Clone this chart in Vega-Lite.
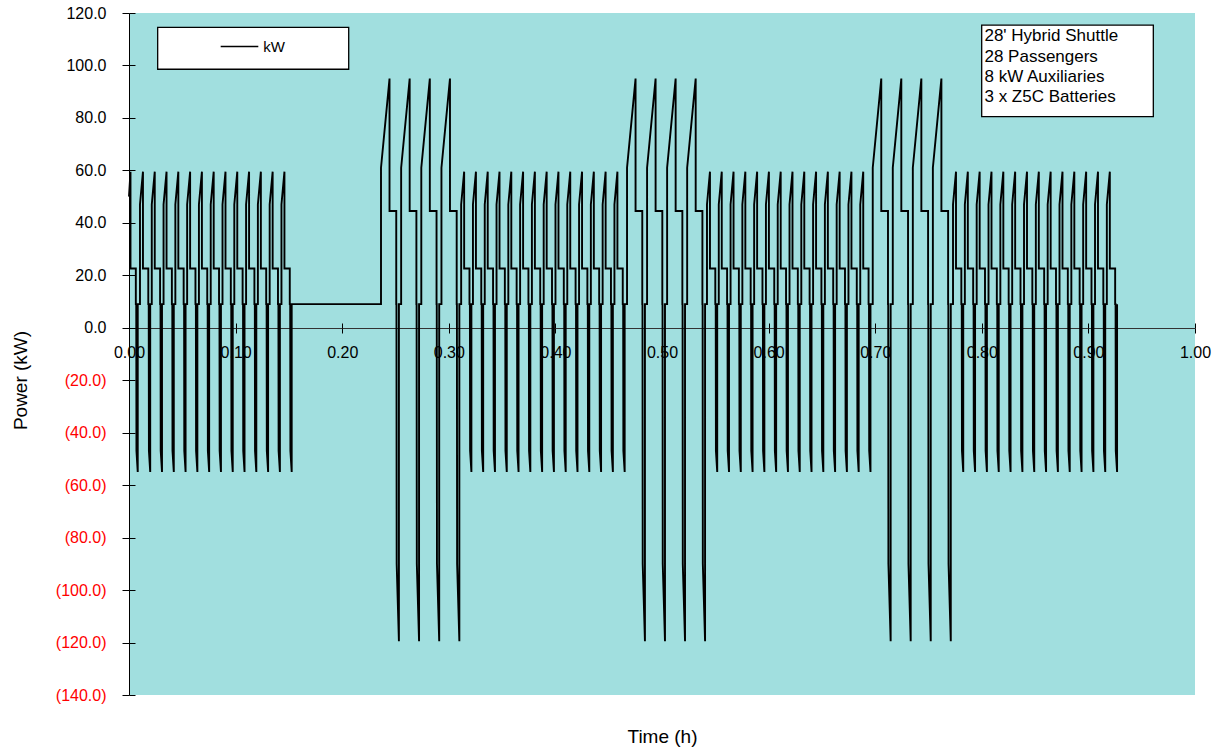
{
"$schema": "https://vega.github.io/schema/vega-lite/v6.json",
"width": 1066, "height": 682,
"autosize": {"type": "none"},
"padding": {"left": 129, "top": 13, "right": 33, "bottom": 56},
"background": "white",
"config": {"view": {"fill": "#A1DFDF", "stroke": null}, "font": "Liberation Sans"},
"resolve": {"axis": {"x": "independent", "y": "independent"}},
"layer": [
{
"data": {"values": [
{"h":0,"kW":50},{"h":0.0014,"kW":59.5},{"h":0.0014,"kW":22.6},{"h":0.0064,"kW":22.6},{"h":0.0064,"kW":9},{"h":0.0068,"kW":9},{"h":0.007,"kW":-47},{"h":0.0082,"kW":-55},{"h":0.0082,"kW":9},
{"h":0.0103,"kW":9},{"h":0.0103,"kW":47},{"h":0.0131,"kW":59.5},{"h":0.0131,"kW":22.6},{"h":0.0181,"kW":22.6},{"h":0.0181,"kW":9},{"h":0.0185,"kW":9},{"h":0.0187,"kW":-47},{"h":0.0199,"kW":-55},{"h":0.0199,"kW":9},
{"h":0.02136,"kW":9},{"h":0.02136,"kW":47},{"h":0.02416,"kW":59.5},{"h":0.02416,"kW":22.6},{"h":0.02916,"kW":22.6},{"h":0.02916,"kW":9},{"h":0.02956,"kW":9},{"h":0.02976,"kW":-47},{"h":0.03096,"kW":-55},{"h":0.03096,"kW":9},
{"h":0.03242,"kW":9},{"h":0.03242,"kW":47},{"h":0.03522,"kW":59.5},{"h":0.03522,"kW":22.6},{"h":0.04022,"kW":22.6},{"h":0.04022,"kW":9},{"h":0.04062,"kW":9},{"h":0.04082,"kW":-47},{"h":0.04202,"kW":-55},{"h":0.04202,"kW":9},
{"h":0.04348,"kW":9},{"h":0.04348,"kW":47},{"h":0.04628,"kW":59.5},{"h":0.04628,"kW":22.6},{"h":0.05128,"kW":22.6},{"h":0.05128,"kW":9},{"h":0.05168,"kW":9},{"h":0.05188,"kW":-47},{"h":0.05308,"kW":-55},{"h":0.05308,"kW":9},
{"h":0.05454,"kW":9},{"h":0.05454,"kW":47},{"h":0.05734,"kW":59.5},{"h":0.05734,"kW":22.6},{"h":0.06234,"kW":22.6},{"h":0.06234,"kW":9},{"h":0.06274,"kW":9},{"h":0.06294,"kW":-47},{"h":0.06414,"kW":-55},{"h":0.06414,"kW":9},
{"h":0.0656,"kW":9},{"h":0.0656,"kW":47},{"h":0.0684,"kW":59.5},{"h":0.0684,"kW":22.6},{"h":0.0734,"kW":22.6},{"h":0.0734,"kW":9},{"h":0.0738,"kW":9},{"h":0.074,"kW":-47},{"h":0.0752,"kW":-55},{"h":0.0752,"kW":9},
{"h":0.07666,"kW":9},{"h":0.07666,"kW":47},{"h":0.07946,"kW":59.5},{"h":0.07946,"kW":22.6},{"h":0.08446,"kW":22.6},{"h":0.08446,"kW":9},{"h":0.08486,"kW":9},{"h":0.08506,"kW":-47},{"h":0.08626,"kW":-55},{"h":0.08626,"kW":9},
{"h":0.08772,"kW":9},{"h":0.08772,"kW":47},{"h":0.09052,"kW":59.5},{"h":0.09052,"kW":22.6},{"h":0.09552,"kW":22.6},{"h":0.09552,"kW":9},{"h":0.09592,"kW":9},{"h":0.09612,"kW":-47},{"h":0.09732,"kW":-55},{"h":0.09732,"kW":9},
{"h":0.09878,"kW":9},{"h":0.09878,"kW":47},{"h":0.10158,"kW":59.5},{"h":0.10158,"kW":22.6},{"h":0.10658,"kW":22.6},{"h":0.10658,"kW":9},{"h":0.10698,"kW":9},{"h":0.10718,"kW":-47},{"h":0.10838,"kW":-55},{"h":0.10838,"kW":9},
{"h":0.10984,"kW":9},{"h":0.10984,"kW":47},{"h":0.11264,"kW":59.5},{"h":0.11264,"kW":22.6},{"h":0.11764,"kW":22.6},{"h":0.11764,"kW":9},{"h":0.11804,"kW":9},{"h":0.11824,"kW":-47},{"h":0.11944,"kW":-55},{"h":0.11944,"kW":9},
{"h":0.1209,"kW":9},{"h":0.1209,"kW":47},{"h":0.1237,"kW":59.5},{"h":0.1237,"kW":22.6},{"h":0.1287,"kW":22.6},{"h":0.1287,"kW":9},{"h":0.1291,"kW":9},{"h":0.1293,"kW":-47},{"h":0.1305,"kW":-55},{"h":0.1305,"kW":9},
{"h":0.13196,"kW":9},{"h":0.13196,"kW":47},{"h":0.13476,"kW":59.5},{"h":0.13476,"kW":22.6},{"h":0.13976,"kW":22.6},{"h":0.13976,"kW":9},{"h":0.14016,"kW":9},{"h":0.14036,"kW":-47},{"h":0.14156,"kW":-55},{"h":0.14156,"kW":9},
{"h":0.14302,"kW":9},{"h":0.14302,"kW":47},{"h":0.14582,"kW":59.5},{"h":0.14582,"kW":22.6},{"h":0.15082,"kW":22.6},{"h":0.15082,"kW":9},{"h":0.15122,"kW":9},{"h":0.15142,"kW":-47},{"h":0.15262,"kW":-55},{"h":0.15262,"kW":9},
{"h":0.2364,"kW":9},{"h":0.2364,"kW":61},{"h":0.2444,"kW":95},{"h":0.2444,"kW":44.5},{"h":0.2507,"kW":44.5},{"h":0.2507,"kW":9},{"h":0.2509,"kW":9},{"h":0.2511,"kW":-90},{"h":0.2532,"kW":-119.5},{"h":0.2532,"kW":9},
{"h":0.2553,"kW":9},{"h":0.2553,"kW":61},{"h":0.2633,"kW":95},{"h":0.2633,"kW":44.5},{"h":0.2696,"kW":44.5},{"h":0.2696,"kW":9},{"h":0.2698,"kW":9},{"h":0.27,"kW":-90},{"h":0.2721,"kW":-119.5},{"h":0.2721,"kW":9},
{"h":0.2742,"kW":9},{"h":0.2742,"kW":61},{"h":0.2822,"kW":95},{"h":0.2822,"kW":44.5},{"h":0.2885,"kW":44.5},{"h":0.2885,"kW":9},{"h":0.2887,"kW":9},{"h":0.2889,"kW":-90},{"h":0.291,"kW":-119.5},{"h":0.291,"kW":9},
{"h":0.2931,"kW":9},{"h":0.2931,"kW":61},{"h":0.3011,"kW":95},{"h":0.3011,"kW":44.5},{"h":0.3074,"kW":44.5},{"h":0.3074,"kW":9},{"h":0.3076,"kW":9},{"h":0.3078,"kW":-90},{"h":0.3099,"kW":-119.5},{"h":0.3099,"kW":9},
{"h":0.3116,"kW":9},{"h":0.3116,"kW":47},{"h":0.3144,"kW":59.5},{"h":0.3144,"kW":22.6},{"h":0.3194,"kW":22.6},{"h":0.3194,"kW":9},{"h":0.3198,"kW":9},{"h":0.32,"kW":-47},{"h":0.3212,"kW":-55},{"h":0.3212,"kW":9},
{"h":0.32266,"kW":9},{"h":0.32266,"kW":47},{"h":0.32546,"kW":59.5},{"h":0.32546,"kW":22.6},{"h":0.33046,"kW":22.6},{"h":0.33046,"kW":9},{"h":0.33086,"kW":9},{"h":0.33106,"kW":-47},{"h":0.33226,"kW":-55},{"h":0.33226,"kW":9},
{"h":0.33372,"kW":9},{"h":0.33372,"kW":47},{"h":0.33652,"kW":59.5},{"h":0.33652,"kW":22.6},{"h":0.34152,"kW":22.6},{"h":0.34152,"kW":9},{"h":0.34192,"kW":9},{"h":0.34212,"kW":-47},{"h":0.34332,"kW":-55},{"h":0.34332,"kW":9},
{"h":0.34478,"kW":9},{"h":0.34478,"kW":47},{"h":0.34758,"kW":59.5},{"h":0.34758,"kW":22.6},{"h":0.35258,"kW":22.6},{"h":0.35258,"kW":9},{"h":0.35298,"kW":9},{"h":0.35318,"kW":-47},{"h":0.35438,"kW":-55},{"h":0.35438,"kW":9},
{"h":0.35584,"kW":9},{"h":0.35584,"kW":47},{"h":0.35864,"kW":59.5},{"h":0.35864,"kW":22.6},{"h":0.36364,"kW":22.6},{"h":0.36364,"kW":9},{"h":0.36404,"kW":9},{"h":0.36424,"kW":-47},{"h":0.36544,"kW":-55},{"h":0.36544,"kW":9},
{"h":0.3669,"kW":9},{"h":0.3669,"kW":47},{"h":0.3697,"kW":59.5},{"h":0.3697,"kW":22.6},{"h":0.3747,"kW":22.6},{"h":0.3747,"kW":9},{"h":0.3751,"kW":9},{"h":0.3753,"kW":-47},{"h":0.3765,"kW":-55},{"h":0.3765,"kW":9},
{"h":0.37796,"kW":9},{"h":0.37796,"kW":47},{"h":0.38076,"kW":59.5},{"h":0.38076,"kW":22.6},{"h":0.38576,"kW":22.6},{"h":0.38576,"kW":9},{"h":0.38616,"kW":9},{"h":0.38636,"kW":-47},{"h":0.38756,"kW":-55},{"h":0.38756,"kW":9},
{"h":0.38902,"kW":9},{"h":0.38902,"kW":47},{"h":0.39182,"kW":59.5},{"h":0.39182,"kW":22.6},{"h":0.39682,"kW":22.6},{"h":0.39682,"kW":9},{"h":0.39722,"kW":9},{"h":0.39742,"kW":-47},{"h":0.39862,"kW":-55},{"h":0.39862,"kW":9},
{"h":0.40008,"kW":9},{"h":0.40008,"kW":47},{"h":0.40288,"kW":59.5},{"h":0.40288,"kW":22.6},{"h":0.40788,"kW":22.6},{"h":0.40788,"kW":9},{"h":0.40828,"kW":9},{"h":0.40848,"kW":-47},{"h":0.40968,"kW":-55},{"h":0.40968,"kW":9},
{"h":0.41114,"kW":9},{"h":0.41114,"kW":47},{"h":0.41394,"kW":59.5},{"h":0.41394,"kW":22.6},{"h":0.41894,"kW":22.6},{"h":0.41894,"kW":9},{"h":0.41934,"kW":9},{"h":0.41954,"kW":-47},{"h":0.42074,"kW":-55},{"h":0.42074,"kW":9},
{"h":0.4222,"kW":9},{"h":0.4222,"kW":47},{"h":0.425,"kW":59.5},{"h":0.425,"kW":22.6},{"h":0.43,"kW":22.6},{"h":0.43,"kW":9},{"h":0.4304,"kW":9},{"h":0.4306,"kW":-47},{"h":0.4318,"kW":-55},{"h":0.4318,"kW":9},
{"h":0.43326,"kW":9},{"h":0.43326,"kW":47},{"h":0.43606,"kW":59.5},{"h":0.43606,"kW":22.6},{"h":0.44106,"kW":22.6},{"h":0.44106,"kW":9},{"h":0.44146,"kW":9},{"h":0.44166,"kW":-47},{"h":0.44286,"kW":-55},{"h":0.44286,"kW":9},
{"h":0.44432,"kW":9},{"h":0.44432,"kW":47},{"h":0.44712,"kW":59.5},{"h":0.44712,"kW":22.6},{"h":0.45212,"kW":22.6},{"h":0.45212,"kW":9},{"h":0.45252,"kW":9},{"h":0.45272,"kW":-47},{"h":0.45392,"kW":-55},{"h":0.45392,"kW":9},
{"h":0.45538,"kW":9},{"h":0.45538,"kW":47},{"h":0.45818,"kW":59.5},{"h":0.45818,"kW":22.6},{"h":0.46318,"kW":22.6},{"h":0.46318,"kW":9},{"h":0.46358,"kW":9},{"h":0.46378,"kW":-47},{"h":0.46498,"kW":-55},{"h":0.46498,"kW":9},
{"h":0.4672,"kW":9},{"h":0.4672,"kW":61},{"h":0.4752,"kW":95},{"h":0.4752,"kW":44.5},{"h":0.4815,"kW":44.5},{"h":0.4815,"kW":9},{"h":0.4817,"kW":9},{"h":0.4819,"kW":-90},{"h":0.484,"kW":-119.5},{"h":0.484,"kW":9},
{"h":0.486,"kW":9},{"h":0.486,"kW":61},{"h":0.494,"kW":95},{"h":0.494,"kW":44.5},{"h":0.5003,"kW":44.5},{"h":0.5003,"kW":9},{"h":0.5005,"kW":9},{"h":0.5007,"kW":-90},{"h":0.5028,"kW":-119.5},{"h":0.5028,"kW":9},
{"h":0.5048,"kW":9},{"h":0.5048,"kW":61},{"h":0.5128,"kW":95},{"h":0.5128,"kW":44.5},{"h":0.5191,"kW":44.5},{"h":0.5191,"kW":9},{"h":0.5193,"kW":9},{"h":0.5195,"kW":-90},{"h":0.5216,"kW":-119.5},{"h":0.5216,"kW":9},
{"h":0.5236,"kW":9},{"h":0.5236,"kW":61},{"h":0.5316,"kW":95},{"h":0.5316,"kW":44.5},{"h":0.5379,"kW":44.5},{"h":0.5379,"kW":9},{"h":0.5381,"kW":9},{"h":0.5383,"kW":-90},{"h":0.5404,"kW":-119.5},{"h":0.5404,"kW":9},
{"h":0.5422,"kW":9},{"h":0.5422,"kW":47},{"h":0.545,"kW":59.5},{"h":0.545,"kW":22.6},{"h":0.55,"kW":22.6},{"h":0.55,"kW":9},{"h":0.5504,"kW":9},{"h":0.5506,"kW":-47},{"h":0.5518,"kW":-55},{"h":0.5518,"kW":9},
{"h":0.55326,"kW":9},{"h":0.55326,"kW":47},{"h":0.55606,"kW":59.5},{"h":0.55606,"kW":22.6},{"h":0.56106,"kW":22.6},{"h":0.56106,"kW":9},{"h":0.56146,"kW":9},{"h":0.56166,"kW":-47},{"h":0.56286,"kW":-55},{"h":0.56286,"kW":9},
{"h":0.56432,"kW":9},{"h":0.56432,"kW":47},{"h":0.56712,"kW":59.5},{"h":0.56712,"kW":22.6},{"h":0.57212,"kW":22.6},{"h":0.57212,"kW":9},{"h":0.57252,"kW":9},{"h":0.57272,"kW":-47},{"h":0.57392,"kW":-55},{"h":0.57392,"kW":9},
{"h":0.57538,"kW":9},{"h":0.57538,"kW":47},{"h":0.57818,"kW":59.5},{"h":0.57818,"kW":22.6},{"h":0.58318,"kW":22.6},{"h":0.58318,"kW":9},{"h":0.58358,"kW":9},{"h":0.58378,"kW":-47},{"h":0.58498,"kW":-55},{"h":0.58498,"kW":9},
{"h":0.58644,"kW":9},{"h":0.58644,"kW":47},{"h":0.58924,"kW":59.5},{"h":0.58924,"kW":22.6},{"h":0.59424,"kW":22.6},{"h":0.59424,"kW":9},{"h":0.59464,"kW":9},{"h":0.59484,"kW":-47},{"h":0.59604,"kW":-55},{"h":0.59604,"kW":9},
{"h":0.5975,"kW":9},{"h":0.5975,"kW":47},{"h":0.6003,"kW":59.5},{"h":0.6003,"kW":22.6},{"h":0.6053,"kW":22.6},{"h":0.6053,"kW":9},{"h":0.6057,"kW":9},{"h":0.6059,"kW":-47},{"h":0.6071,"kW":-55},{"h":0.6071,"kW":9},
{"h":0.60856,"kW":9},{"h":0.60856,"kW":47},{"h":0.61136,"kW":59.5},{"h":0.61136,"kW":22.6},{"h":0.61636,"kW":22.6},{"h":0.61636,"kW":9},{"h":0.61676,"kW":9},{"h":0.61696,"kW":-47},{"h":0.61816,"kW":-55},{"h":0.61816,"kW":9},
{"h":0.61962,"kW":9},{"h":0.61962,"kW":47},{"h":0.62242,"kW":59.5},{"h":0.62242,"kW":22.6},{"h":0.62742,"kW":22.6},{"h":0.62742,"kW":9},{"h":0.62782,"kW":9},{"h":0.62802,"kW":-47},{"h":0.62922,"kW":-55},{"h":0.62922,"kW":9},
{"h":0.63068,"kW":9},{"h":0.63068,"kW":47},{"h":0.63348,"kW":59.5},{"h":0.63348,"kW":22.6},{"h":0.63848,"kW":22.6},{"h":0.63848,"kW":9},{"h":0.63888,"kW":9},{"h":0.63908,"kW":-47},{"h":0.64028,"kW":-55},{"h":0.64028,"kW":9},
{"h":0.64174,"kW":9},{"h":0.64174,"kW":47},{"h":0.64454,"kW":59.5},{"h":0.64454,"kW":22.6},{"h":0.64954,"kW":22.6},{"h":0.64954,"kW":9},{"h":0.64994,"kW":9},{"h":0.65014,"kW":-47},{"h":0.65134,"kW":-55},{"h":0.65134,"kW":9},
{"h":0.6528,"kW":9},{"h":0.6528,"kW":47},{"h":0.6556,"kW":59.5},{"h":0.6556,"kW":22.6},{"h":0.6606,"kW":22.6},{"h":0.6606,"kW":9},{"h":0.661,"kW":9},{"h":0.6612,"kW":-47},{"h":0.6624,"kW":-55},{"h":0.6624,"kW":9},
{"h":0.66386,"kW":9},{"h":0.66386,"kW":47},{"h":0.66666,"kW":59.5},{"h":0.66666,"kW":22.6},{"h":0.67166,"kW":22.6},{"h":0.67166,"kW":9},{"h":0.67206,"kW":9},{"h":0.67226,"kW":-47},{"h":0.67346,"kW":-55},{"h":0.67346,"kW":9},
{"h":0.67492,"kW":9},{"h":0.67492,"kW":47},{"h":0.67772,"kW":59.5},{"h":0.67772,"kW":22.6},{"h":0.68272,"kW":22.6},{"h":0.68272,"kW":9},{"h":0.68312,"kW":9},{"h":0.68332,"kW":-47},{"h":0.68452,"kW":-55},{"h":0.68452,"kW":9},
{"h":0.68598,"kW":9},{"h":0.68598,"kW":47},{"h":0.68878,"kW":59.5},{"h":0.68878,"kW":22.6},{"h":0.69378,"kW":22.6},{"h":0.69378,"kW":9},{"h":0.69418,"kW":9},{"h":0.69438,"kW":-47},{"h":0.69558,"kW":-55},{"h":0.69558,"kW":9},
{"h":0.6977,"kW":9},{"h":0.6977,"kW":61},{"h":0.7057,"kW":95},{"h":0.7057,"kW":44.5},{"h":0.712,"kW":44.5},{"h":0.712,"kW":9},{"h":0.7122,"kW":9},{"h":0.7124,"kW":-90},{"h":0.7145,"kW":-119.5},{"h":0.7145,"kW":9},
{"h":0.7165,"kW":9},{"h":0.7165,"kW":61},{"h":0.7245,"kW":95},{"h":0.7245,"kW":44.5},{"h":0.7308,"kW":44.5},{"h":0.7308,"kW":9},{"h":0.731,"kW":9},{"h":0.7312,"kW":-90},{"h":0.7333,"kW":-119.5},{"h":0.7333,"kW":9},
{"h":0.7353,"kW":9},{"h":0.7353,"kW":61},{"h":0.7433,"kW":95},{"h":0.7433,"kW":44.5},{"h":0.7496,"kW":44.5},{"h":0.7496,"kW":9},{"h":0.7498,"kW":9},{"h":0.75,"kW":-90},{"h":0.7521,"kW":-119.5},{"h":0.7521,"kW":9},
{"h":0.7541,"kW":9},{"h":0.7541,"kW":61},{"h":0.7621,"kW":95},{"h":0.7621,"kW":44.5},{"h":0.7684,"kW":44.5},{"h":0.7684,"kW":9},{"h":0.7686,"kW":9},{"h":0.7688,"kW":-90},{"h":0.7709,"kW":-119.5},{"h":0.7709,"kW":9},
{"h":0.773,"kW":9},{"h":0.773,"kW":47},{"h":0.7758,"kW":59.5},{"h":0.7758,"kW":22.6},{"h":0.7808,"kW":22.6},{"h":0.7808,"kW":9},{"h":0.7812,"kW":9},{"h":0.7814,"kW":-47},{"h":0.7826,"kW":-55},{"h":0.7826,"kW":9},
{"h":0.7841,"kW":9},{"h":0.7841,"kW":47},{"h":0.7869,"kW":59.5},{"h":0.7869,"kW":22.6},{"h":0.7919,"kW":22.6},{"h":0.7919,"kW":9},{"h":0.7923,"kW":9},{"h":0.7925,"kW":-47},{"h":0.7937,"kW":-55},{"h":0.7937,"kW":9},
{"h":0.7952,"kW":9},{"h":0.7952,"kW":47},{"h":0.798,"kW":59.5},{"h":0.798,"kW":22.6},{"h":0.803,"kW":22.6},{"h":0.803,"kW":9},{"h":0.8034,"kW":9},{"h":0.8036,"kW":-47},{"h":0.8048,"kW":-55},{"h":0.8048,"kW":9},
{"h":0.8063,"kW":9},{"h":0.8063,"kW":47},{"h":0.8091,"kW":59.5},{"h":0.8091,"kW":22.6},{"h":0.8141,"kW":22.6},{"h":0.8141,"kW":9},{"h":0.8145,"kW":9},{"h":0.8147,"kW":-47},{"h":0.8159,"kW":-55},{"h":0.8159,"kW":9},
{"h":0.8174,"kW":9},{"h":0.8174,"kW":47},{"h":0.8202,"kW":59.5},{"h":0.8202,"kW":22.6},{"h":0.8252,"kW":22.6},{"h":0.8252,"kW":9},{"h":0.8256,"kW":9},{"h":0.8258,"kW":-47},{"h":0.827,"kW":-55},{"h":0.827,"kW":9},
{"h":0.8285,"kW":9},{"h":0.8285,"kW":47},{"h":0.8313,"kW":59.5},{"h":0.8313,"kW":22.6},{"h":0.8363,"kW":22.6},{"h":0.8363,"kW":9},{"h":0.8367,"kW":9},{"h":0.8369,"kW":-47},{"h":0.8381,"kW":-55},{"h":0.8381,"kW":9},
{"h":0.8396,"kW":9},{"h":0.8396,"kW":47},{"h":0.8424,"kW":59.5},{"h":0.8424,"kW":22.6},{"h":0.8474,"kW":22.6},{"h":0.8474,"kW":9},{"h":0.8478,"kW":9},{"h":0.848,"kW":-47},{"h":0.8492,"kW":-55},{"h":0.8492,"kW":9},
{"h":0.8507,"kW":9},{"h":0.8507,"kW":47},{"h":0.8535,"kW":59.5},{"h":0.8535,"kW":22.6},{"h":0.8585,"kW":22.6},{"h":0.8585,"kW":9},{"h":0.8589,"kW":9},{"h":0.8591,"kW":-47},{"h":0.8603,"kW":-55},{"h":0.8603,"kW":9},
{"h":0.8618,"kW":9},{"h":0.8618,"kW":47},{"h":0.8646,"kW":59.5},{"h":0.8646,"kW":22.6},{"h":0.8696,"kW":22.6},{"h":0.8696,"kW":9},{"h":0.87,"kW":9},{"h":0.8702,"kW":-47},{"h":0.8714,"kW":-55},{"h":0.8714,"kW":9},
{"h":0.8729,"kW":9},{"h":0.8729,"kW":47},{"h":0.8757,"kW":59.5},{"h":0.8757,"kW":22.6},{"h":0.8807,"kW":22.6},{"h":0.8807,"kW":9},{"h":0.8811,"kW":9},{"h":0.8813,"kW":-47},{"h":0.8825,"kW":-55},{"h":0.8825,"kW":9},
{"h":0.884,"kW":9},{"h":0.884,"kW":47},{"h":0.8868,"kW":59.5},{"h":0.8868,"kW":22.6},{"h":0.8918,"kW":22.6},{"h":0.8918,"kW":9},{"h":0.8922,"kW":9},{"h":0.8924,"kW":-47},{"h":0.8936,"kW":-55},{"h":0.8936,"kW":9},
{"h":0.8951,"kW":9},{"h":0.8951,"kW":47},{"h":0.8979,"kW":59.5},{"h":0.8979,"kW":22.6},{"h":0.9029,"kW":22.6},{"h":0.9029,"kW":9},{"h":0.9033,"kW":9},{"h":0.9035,"kW":-47},{"h":0.9047,"kW":-55},{"h":0.9047,"kW":9},
{"h":0.9062,"kW":9},{"h":0.9062,"kW":47},{"h":0.909,"kW":59.5},{"h":0.909,"kW":22.6},{"h":0.914,"kW":22.6},{"h":0.914,"kW":9},{"h":0.9144,"kW":9},{"h":0.9146,"kW":-47},{"h":0.9158,"kW":-55},{"h":0.9158,"kW":9},
{"h":0.9173,"kW":9},{"h":0.9173,"kW":47},{"h":0.9201,"kW":59.5},{"h":0.9201,"kW":22.6},{"h":0.9251,"kW":22.6},{"h":0.9251,"kW":9},{"h":0.9255,"kW":9},{"h":0.9257,"kW":-47},{"h":0.9269,"kW":-55},{"h":0.9269,"kW":9}
]},
"mark": {"type": "line", "color": "black", "strokeWidth": 1.9},
"encoding": {
"x": {"field": "h", "type": "quantitative", "scale": {"domain": [0, 1], "nice": false, "zero": false},
"axis": {"orient": "bottom", "offset": -367, "values": [0,0.1,0.2,0.3,0.4,0.5,0.6,0.7,0.8,0.9,1.0], "format": ".2f", "labelFlush": false, "labelOverlap": false, "grid": false, "domainColor": "#333333", "domainWidth": 1, "tickColor": "black", "tickSize": 5, "tickWidth": 1, "labelPadding": 11, "labelFont": "Liberation Sans", "labelFontSize": 16, "labelColor": "black", "title": "Time (h)", "titleFont": "Liberation Sans", "titleFontSize": 19, "titleFontWeight": "normal", "titleColor": "black", "titleY": 399, "titleBaseline": "top"}},
"y": {"field": "kW", "type": "quantitative", "scale": {"domain": [-140, 120], "nice": false},
"axis": {"orient": "left", "values": [-140,-120,-100,-80,-60,-40,-20,0,20,40,60,80,100,120], "labelExpr": "datum.value < 0 ? '(' + format(-datum.value, '.1f') + ')' : format(datum.value, '.1f')", "labelColor": {"condition": {"test": "datum.value < 0", "value": "#FF0000"}, "value": "black"}, "labelPadding": 16, "labelFlush": false, "labelOverlap": false, "grid": false, "domainColor": "black", "domainWidth": 1, "tickColor": "black", "tickSize": 7, "tickWidth": 1, "labelFont": "Liberation Sans", "labelFontSize": 16, "title": "Power (kW)", "titleFont": "Liberation Sans", "titleFontSize": 19, "titleFontWeight": "normal", "titleColor": "black", "titleX": -103, "titleY": 367, "titleBaseline": "alphabetic", "titleAngle": -90,
"encode": {"labels": {"update": {"dx": {"signal": "datum.value < 0 ? 6 : 0"}}}}}},
"order": {"value": null}
}
},
{
"data": {"values": [{"h": 0, "kW": 0}]},
"mark": {"type": "point", "opacity": 0},
"encoding": {
"x": {"field": "h", "type": "quantitative", "axis": {"orient": "top", "offset": -315, "values": [0,0.1,0.2,0.3,0.4,0.5,0.6,0.7,0.8,0.9,1.0], "labels": false, "domain": false, "grid": false, "tickColor": "black", "tickSize": 5, "tickWidth": 1, "title": null}},
"y": {"field": "kW", "type": "quantitative", "axis": {"orient": "right", "offset": -1066, "values": [-140,-120,-100,-80,-60,-40,-20,0,20,40,60,80,100,120], "labels": false, "domain": false, "grid": false, "tickColor": "black", "tickSize": 6, "tickWidth": 1, "title": null}}
}
},
{
"data": {"values": [{"x1": 0.0269, "x2": 0.2061, "y1": 114.55, "y2": 98.55}, {"x1": 0.7999, "x2": 0.9609, "y1": 115.4, "y2": 80.5}]},
"mark": {"type": "rect", "fill": "white", "stroke": "black", "strokeWidth": 1.3},
"encoding": {
"x": {"field": "x1", "type": "quantitative", "axis": null},
"x2": {"field": "x2"},
"y": {"field": "y1", "type": "quantitative", "axis": null},
"y2": {"field": "y2"}
}
},
{
"data": {"values": [{"x1": 0.086, "x2": 0.1213, "y": 107.2}]},
"mark": {"type": "rule", "color": "black", "strokeWidth": 1.5},
"encoding": {
"x": {"field": "x1", "type": "quantitative", "axis": null},
"x2": {"field": "x2"},
"y": {"field": "y", "type": "quantitative", "axis": null}
}
},
{
"data": {"values": [{"x": 0.126, "y": 107.2, "label": "kW"}]},
"mark": {"type": "text", "align": "left", "baseline": "middle", "font": "Liberation Sans", "fontSize": 15, "color": "black"},
"encoding": {
"x": {"field": "x", "type": "quantitative", "axis": null},
"y": {"field": "y", "type": "quantitative", "axis": null},
"text": {"field": "label"}
}
},
{
"data": {"values": [
{"x": 0.8025, "y": 111.35, "label": "28' Hybrid Shuttle"},
{"x": 0.8025, "y": 103.35, "label": "28 Passengers"},
{"x": 0.8025, "y": 95.73, "label": "8 kW  Auxiliaries"},
{"x": 0.8025, "y": 88.11, "label": "3 x Z5C Batteries"}
]},
"mark": {"type": "text", "align": "left", "baseline": "middle", "font": "Liberation Sans", "fontSize": 17, "color": "black"},
"encoding": {
"x": {"field": "x", "type": "quantitative", "axis": null},
"y": {"field": "y", "type": "quantitative", "axis": null},
"text": {"field": "label"}
}
}
]
}
